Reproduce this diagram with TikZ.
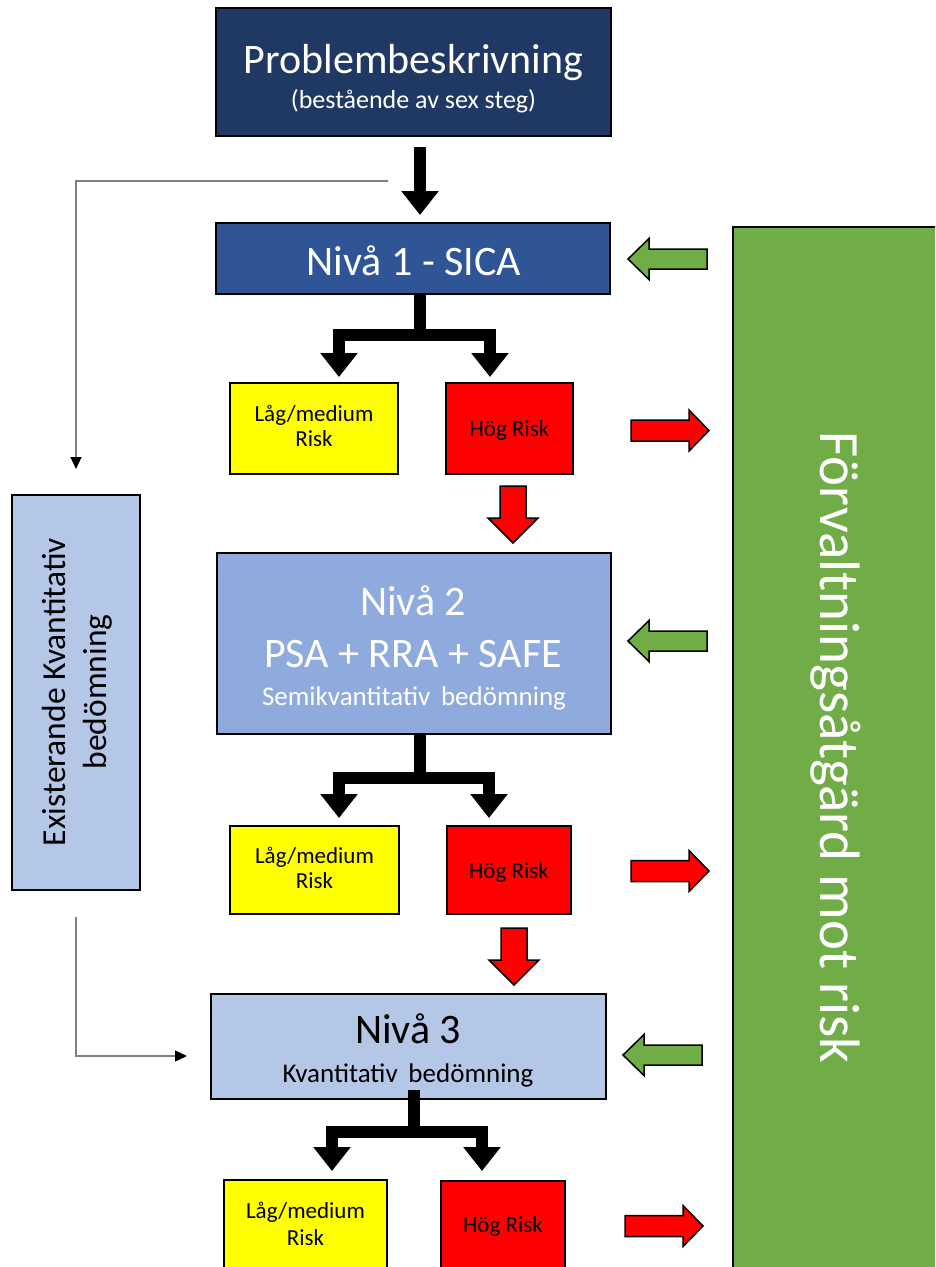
\documentclass[tikz,border=0pt]{standalone}
\usepackage{fontspec}
\setmainfont{Carlito}
\usetikzlibrary{arrows.meta}
\definecolor{navy}{HTML}{203864}
\definecolor{blueA}{HTML}{2F5597}
\definecolor{blueB}{HTML}{8FAADC}
\definecolor{blueC}{HTML}{B4C7E7}
\definecolor{grn}{HTML}{70AD47}
\definecolor{ylw}{HTML}{FFFF00}
\definecolor{rd}{HTML}{FF0000}
\definecolor{thingray}{HTML}{7F7F7F}
\newcommand\fsz[1]{\fontsize{#1}{#1}\selectfont}
\tikzset{
  box/.style={draw=black, line width=2pt, inner sep=0pt, rectangle},
  txt/.style={inner sep=0pt, anchor=base},
  flow/.style={line width=12pt, -{Triangle[length=24pt,width=36pt]}},
  thinline/.style={draw=thingray, line width=1.2pt, -{Triangle[length=12pt,width=11pt,color=black]}},
  blockline/.style={draw=black, line width=1.5pt, line join=miter},
  greenleft/.pic={\draw[blockline, fill=grn] (-39.5,0) -- (-18.5,-20.5) -- (-18.5,-10) -- (39.5,-10) -- (39.5,10) -- (-18.5,10) -- (-18.5,20.5) -- cycle;},
  redright/.pic={\draw[blockline, fill=rd] (-39,-10.5) -- (19,-10.5) -- (19,-20.5) -- (39,0) -- (19,20.5) -- (19,10.5) -- (-39,10.5) -- cycle;},
  reddown/.pic={\draw[blockline, fill=rd] (-13,-28.5) -- (13,-28.5) -- (13,3.5) -- (25,3.5) -- (0,28.5) -- (-25,3.5) -- (-13,3.5) -- cycle;},
}
\begin{document}
\begin{tikzpicture}[x=1pt,y=-1pt]
\useasboundingbox (0,0) rectangle (935,1267);
\clip (0,0) rectangle (935,1267);
\fill[white] (0,0) rectangle (935,1267);

% boxes
\node[box, fill=navy, minimum width=395pt, minimum height=128pt] (p) at (413.5,72) {};
\node[box, fill=blueA, minimum width=394pt, minimum height=71pt] (n1) at (413,258.5) {};
\node[box, fill=ylw, minimum width=168pt, minimum height=91pt] (y1) at (314,428.5) {};
\node[box, fill=rd, minimum width=127pt, minimum height=91pt] (r1) at (509.5,428.5) {};
\node[box, fill=blueB, minimum width=394pt, minimum height=181pt] (n2) at (414,643.5) {};
\node[box, fill=ylw, minimum width=169pt, minimum height=88pt] (y2) at (314.5,870) {};
\node[box, fill=rd, minimum width=124pt, minimum height=88pt] (r2) at (509,870) {};
\node[box, fill=blueC, minimum width=395pt, minimum height=105pt] (n3) at (408.5,1046.5) {};
\node[box, fill=ylw, minimum width=163pt, minimum height=100pt] (y3) at (305.5,1230) {};
\node[box, fill=rd, minimum width=124pt, minimum height=99pt] (r3) at (503,1230.5) {};
\node[box, fill=blueC, minimum width=128pt, minimum height=395pt] (lb) at (76,692.5) {};
\node[box, fill=grn, minimum width=217pt, minimum height=1062pt] (gb) at (841.5,758) {};

% texts
\node[txt, text=white, font=\fsz{42}] (pt1) at (413.5,73) {Problembeskrivning};
\node[txt, text=white, font=\fsz{26}] (pt2) at (413.5,108) {(bestående av sex steg)};
\node[txt, text=white, font=\fsz{42}] (n1t) at (414,275) {Nivå 1 - SICA};
\node[txt, text=white, font=\fsz{42}] (n2t1) at (413,615) {Nivå 2};
\node[txt, text=white, font=\fsz{42}] (n2t2) at (413,667) {PSA + RRA + SAFE};
\node[txt, text=white, font=\fsz{27}] (n2t3) at (414,705) {Semikvantitativ\hspace{0.4em}bedömning};
\node[txt, font=\fsz{42}] (n3t1) at (408,1043) {Nivå 3};
\node[txt, font=\fsz{27}] (n3t2) at (408,1082) {Kvantitativ\hspace{0.4em}bedömning};
\node[txt, font=\fsz{23}] (y1a) at (314,421.5) {Låg/medium};
\node[txt, font=\fsz{23}] (y1b) at (314,446.5) {Risk};
\node[txt, font=\fsz{23}] (r1t) at (509.5,436.5) {Hög Risk};
\node[txt, font=\fsz{23}] (y2a) at (314.5,863) {Låg/medium};
\node[txt, font=\fsz{23}] (y2b) at (314.5,888) {Risk};
\node[txt, font=\fsz{23}] (r2t) at (509,878) {Hög Risk};
\node[txt, font=\fsz{23}] (y3a) at (305.5,1218) {Låg/medium};
\node[txt, font=\fsz{23}] (y3b) at (305.5,1245) {Risk};
\node[txt, font=\fsz{23}] (r3t) at (503,1232) {Hög Risk};
\node[txt, font=\fsz{33.5}, rotate=90] (lt1) at (65,692) {Existerande Kvantitativ};
\node[txt, font=\fsz{33.5}, rotate=90] (lt2) at (106,692) {bedömning};
\node[txt, text=white, font=\fsz{57}, rotate=-90] (gt) at (820,747.5) {Förvaltningsåtgärd mot risk};

% black flow connectors
\coordinate (c0) at (420,0);
\draw[flow, shorten <=10pt, shorten >=7pt] (p.south -| c0) -- (n1.north -| c0);
\coordinate (j1) at (420,335);
\coordinate (l1) at (339,0);
\coordinate (k1) at (490,0);
\draw[flow, shorten >=5pt] (n1.south -| j1) -- (j1) -| (y1.north -| l1);
\draw[flow, shorten >=5pt] (n1.south -| j1) -- (j1) -| (r1.north -| k1);
\coordinate (j2) at (420,778);
\coordinate (l2) at (339,0);
\coordinate (k2) at (489,0);
\draw[flow, shorten >=7pt] (n2.south -| j2) -- (j2) -| (y2.north -| l2);
\draw[flow, shorten >=7pt] (n2.south -| j2) -- (j2) -| (r2.north -| k2);
\coordinate (j3) at (413.5,1132);
\coordinate (l3) at (332,0);
\coordinate (k3) at (482,0);
\draw[flow, shorten <=-10pt, shorten >=8pt] (n3.south -| j3) -- (j3) -| (y3.north -| l3);
\draw[flow, shorten <=-10pt, shorten >=9pt] (n3.south -| j3) -- (j3) -| (r3.north -| k3);

% thin gray connectors
\coordinate (g1) at (388,181);
\draw[thinline, shorten >=25pt] (g1) -| (lb.north);
\coordinate (g2) at (76,1056);
\draw[thinline, shorten <=26pt, shorten >=23pt] (lb.south) -- (g2) -- (n3.west |- g2);

% block arrows
\pic at (667.5,259) {greenleft};
\pic at (667.5,641) {greenleft};
\pic at (662.5,1055) {greenleft};
\pic at (670,430.5) {redright};
\pic at (670,871) {redright};
\pic at (664,1226) {redright};
\pic at (513,514.5) {reddown};
\pic at (514,956.5) {reddown};
\end{tikzpicture}
\end{document}
